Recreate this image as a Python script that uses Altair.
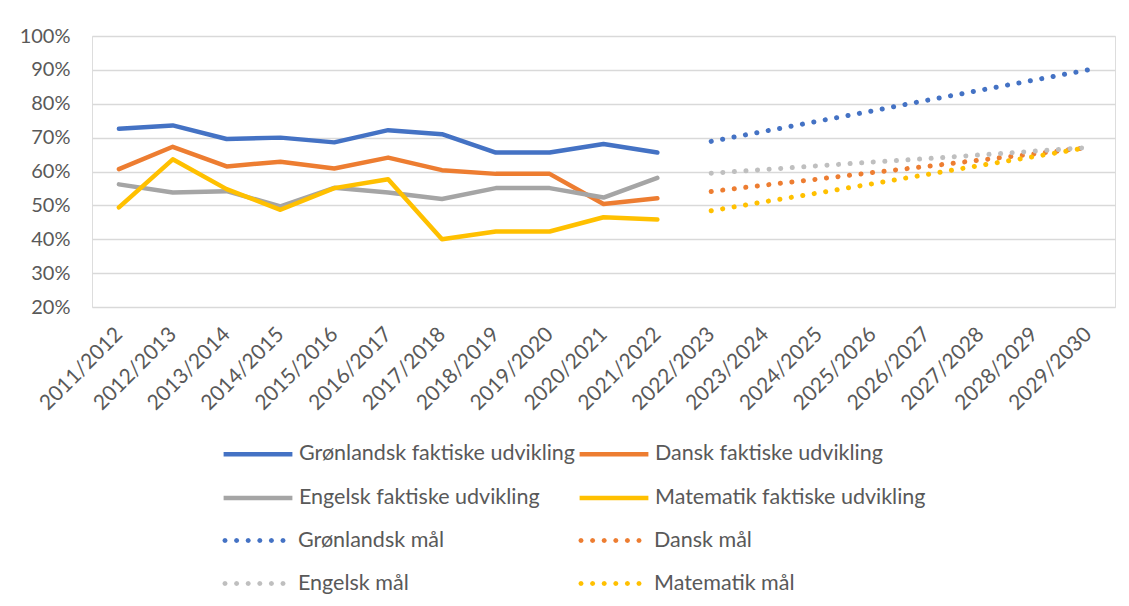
import math
import altair as alt
import pandas as pd

years = ["2011/2012", "2012/2013", "2013/2014", "2014/2015", "2015/2016", "2016/2017",
         "2017/2018", "2018/2019", "2019/2020", "2020/2021", "2021/2022", "2022/2023",
         "2023/2024", "2024/2025", "2025/2026", "2026/2027", "2027/2028", "2028/2029",
         "2029/2030"]
actual_years = years[:11]
target_years = years[11:]

actual_names = ["Grønlandsk faktiske udvikling", "Dansk faktiske udvikling",
                "Engelsk faktiske udvikling", "Matematik faktiske udvikling"]
target_names = ["Grønlandsk mål", "Dansk mål", "Engelsk mål", "Matematik mål"]

groenlandsk_faktisk = [72.6, 73.6, 69.6, 70.0, 68.6, 72.2, 71.0, 65.6, 65.6, 68.1, 65.6]
dansk_faktisk = [60.7, 67.3, 61.5, 62.9, 60.9, 64.1, 60.4, 59.3, 59.3, 50.4, 52.1]
engelsk_faktisk = [56.2, 53.8, 54.2, 49.7, 55.2, 53.8, 51.9, 55.1, 55.1, 52.3, 58.1]
matematik_faktisk = [49.4, 63.6, 54.8, 48.7, 55.1, 57.7, 40.0, 42.3, 42.3, 46.5, 45.8]

groenlandsk_maal = [68.9, 71.9, 74.9, 77.9, 81.0, 84.0, 87.0, 90.0]
dansk_maal = [54.1, 56.0, 57.8, 59.7, 61.5, 63.4, 65.2, 67.1]
engelsk_maal = [59.5, 60.6, 61.7, 62.8, 63.8, 64.9, 66.0, 67.1]
matematik_maal = [48.4, 51.1, 53.7, 56.4, 59.1, 61.8, 64.4, 67.1]

actual_colors = ["#4472C4", "#ED7D31", "#A5A5A5", "#FFC000"]
target_colors = ["#4472C4", "#ED7D31", "#BFBFBF", "#FFC000"]

rows_a = []
for name, vals in zip(actual_names, [groenlandsk_faktisk, dansk_faktisk, engelsk_faktisk, matematik_faktisk]):
    for yr, v in zip(actual_years, vals):
        rows_a.append({"serie": name, "aar": yr, "andel": v / 100})
rows_t = []
for name, vals in zip(target_names, [groenlandsk_maal, dansk_maal, engelsk_maal, matematik_maal]):
    for yr, v in zip(target_years, vals):
        rows_t.append({"serie": name, "aar": yr, "andel": v / 100})
df_a = pd.DataFrame(rows_a)
df_t = pd.DataFrame(rows_t)

# legend entries are laid out column by column: reorder so rows read G, D / E, M
leg_order = [0, 2, 1, 3]
actual_dom = [actual_names[i] for i in leg_order]
actual_rng = [actual_colors[i] for i in leg_order]
target_dom = [target_names[i] for i in leg_order]
target_rng = [target_colors[i] for i in leg_order]

FONT = "Lato"
TXT = "#595959"

x_enc = alt.X("aar:N", sort=years, title=None,
              scale=alt.Scale(type="point", padding=0.5, domain=years),
              axis=alt.Axis(labelAngle=-45, labelAlign="right", labelBaseline="middle",
                            labelPadding=24, domain=False, ticks=False, grid=False,
                            labelFont=FONT, labelFontSize=21, labelColor=TXT))
y_enc = alt.Y("andel:Q", title=None,
              scale=alt.Scale(domain=[0.2, 1.0], nice=False, zero=False),
              axis=alt.Axis(format=".0%", values=[0.2, 0.3, 0.4, 0.5, 0.6, 0.7, 0.8, 0.9, 1.0],
                            domain=False, ticks=False, labelPadding=22,
                            gridColor="#D9D9D9", gridWidth=1.4,
                            labelFont=FONT, labelFontSize=20, labelColor=TXT))

# legend symbol geometry (unit box -1..1 scaled to 43 px)
line_path = "M-1.6,0H1.6"
rr = 0.03
dot_centres = [-1.512, -0.972, -0.433, 0.107, 0.647, 1.186]


def octagon(c):
    pts = [(c + rr * math.cos(k * math.pi / 4), rr * math.sin(k * math.pi / 4)) for k in range(8)]
    return "M" + "L".join(f"{px:.4f},{py:.4f}" for px, py in pts) + "Z"


dot_path = " ".join(octagon(c) for c in dot_centres)

legend_common = dict(orient="none", columns=2, title=None, padding=0,
                     symbolSize=1849, symbolOffset=13, labelOffset=17,
                     labelFont=FONT, labelFontSize=21.5, labelColor=TXT,
                     rowPadding=9, labelLimit=400)

actual = alt.Chart(df_a).mark_line(strokeWidth=4.5, strokeCap="round", strokeJoin="round").encode(
    x=x_enc, y=y_enc,
    color=alt.Color("serie:N",
                    scale=alt.Scale(domain=actual_dom, range=actual_rng),
                    legend=alt.Legend(legendX=129, legendY=394, symbolType=line_path,
                                      symbolStrokeWidth=4.5, columnPadding=-6,
                                      **legend_common)),
    detail="serie:N",
    order=alt.Order("aar:N"),
)

target = alt.Chart(df_t).mark_line(strokeWidth=5, strokeCap="round", strokeDash=[0.1, 11.5]).encode(
    x=x_enc, y=y_enc,
    color=alt.Color("serie:N",
                    scale=alt.Scale(domain=target_dom, range=target_rng),
                    legend=None),
    order=alt.Order("aar:N"),
)

# carrier of the target legend: one point per series draws no visible line
target_key = alt.Chart(df_t).transform_filter(
    alt.datum.aar == target_years[0]
).mark_line(strokeWidth=3.6).encode(
    x=x_enc, y=y_enc,
    color=alt.Color("serie:N",
                    scale=alt.Scale(domain=target_dom, range=target_rng),
                    legend=alt.Legend(legendX=129, legendY=481, symbolType=dot_path,
                                      symbolStrokeWidth=3.6, columnPadding=128,
                                      **legend_common)),
)

chart = alt.layer(actual, target, target_key).resolve_scale(color="independent").properties(
    width=1023, height=271,
    autosize=alt.AutoSizeParams(type="none"),
    padding={"left": 84, "top": 28, "right": 6, "bottom": 290},
).configure_view(stroke=None).configure(background="white")

chart.save("out.html", embed_options={"renderer": "svg", "actions": False})
